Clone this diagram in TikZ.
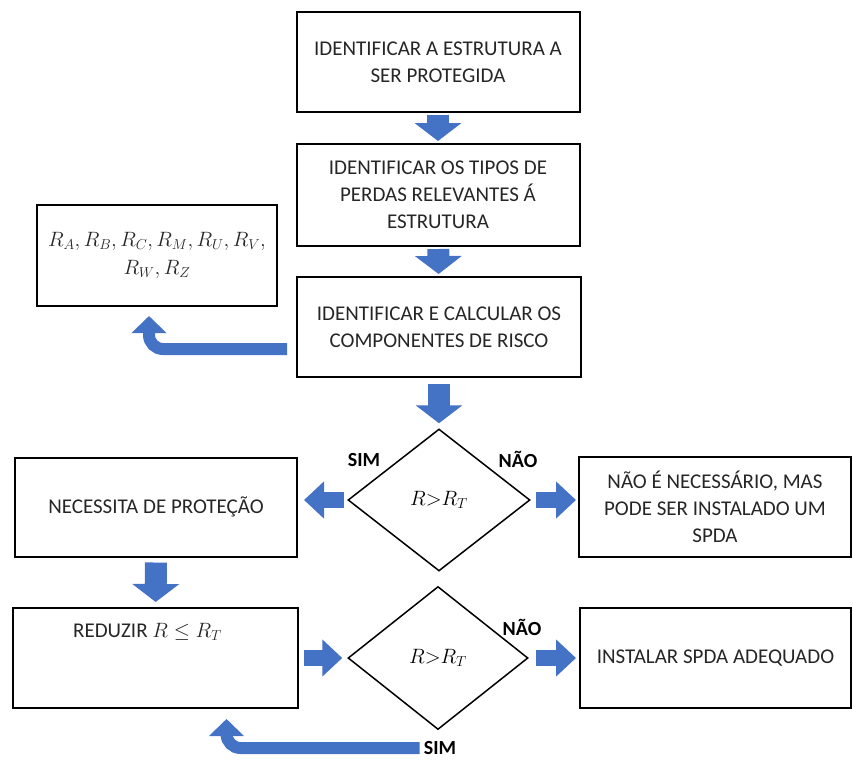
\documentclass[tikz,border=0pt]{standalone}
\usepackage{fontspec}
\setmainfont{Carlito}
\usepackage{amsmath}
\usepackage{amssymb}
\usetikzlibrary{arrows.meta, shapes.geometric}

\definecolor{flowblue}{RGB}{68,114,196}
\newcommand{\boxfont}{\fontsize{21}{27}\selectfont}

\begin{document}
\begin{tikzpicture}[x=1pt, y=-1pt, semithick,
		box/.style={draw, line width=2pt, align=center, inner sep=0pt, text=black!85, font=\boxfont},
		decision/.style={diamond, draw, line width=1.5pt, inner sep=0pt, minimum width=182pt, minimum height=142pt, font=\fontsize{22}{27}\selectfont},
		answer/.style={font=\bfseries\fontsize{20}{24}\selectfont, inner sep=0pt},
		vflow/.style={flowblue, line width=22pt, -{Triangle[width=46pt, length=18pt]}},
		hflow/.style={flowblue, line width=16pt, -{Triangle[width=36pt, length=20pt]}},
		bent/.style={flowblue, line width=12pt, rounded corners=14pt, -{Triangle[width=34pt, length=17pt]}}]
		\useasboundingbox (0, 0) rectangle (853, 760);

		\node[box, minimum width=283pt, minimum height=99pt] (ident) at (438, 62) {IDENTIFICAR A ESTRUTURA A\\SER PROTEGIDA};
		\node[box, minimum width=283pt, minimum height=102pt] (losses) at (438, 195) {IDENTIFICAR OS TIPOS DE\\PERDAS RELEVANTES Á\\ESTRUTURA};
		\node[box, minimum width=284pt, minimum height=100pt] (risk) at (439, 327) {IDENTIFICAR E CALCULAR OS\\COMPONENTES DE RISCO};
		\node[box, minimum width=240pt, minimum height=101pt, font=\fontsize{22}{28}\selectfont] (rlist) at (157, 255.5) {$R_A, R_B, R_C, R_M, R_U, R_V,$\\$R_W, R_Z$};

		\node[decision] (test1) at (439, 500) {$R{>}R_T$};
		\node[box, minimum width=282pt, minimum height=99pt] (protect) at (156, 507) {NECESSITA DE PROTEÇÃO};
		\node[box, minimum width=272pt, minimum height=100pt] (optional) at (715, 507) {NÃO É NECESSÁRIO, MAS\\PODE SER INSTALADO UM\\SPDA};
		\node[answer] (sim1) at (364, 460) {SIM};
		\node[answer] (nao1) at (518, 459) {NÃO};

		\node[box, minimum width=285pt, minimum height=100pt,
			label={[font=\boxfont, text=black!85, anchor=north, yshift=-13pt, xshift=-8pt]north:REDUZIR $R \le R_T$}] (reduce) at (155.5, 658) {};
		\node[decision, minimum width=180pt, minimum height=143pt] (test2) at (438, 658) {$R{>}R_T$};
		\node[box, minimum width=271pt, minimum height=100pt] (install) at (715.5, 658) {INSTALAR SPDA ADEQUADO};
		\node[answer] (nao2) at (522, 627) {NÃO};
		\node[answer] (sim2) at (440, 748) {SIM};

		% block arrows between the steps
		\draw[vflow, shorten <=2pt, shorten >=2pt] (ident) -- (losses);
		\draw[vflow, shorten <=2pt, shorten >=2pt] (losses) -- (risk);
		\draw[vflow, shorten <=6pt, shorten >=5pt] (risk) -- (test1);
		\draw[hflow, shorten <=3pt, shorten >=6pt] (test1.west) -- (protect.east |- test1.west);
		\draw[hflow, shorten <=5pt, shorten >=2pt] (test1.east) -- (optional.west |- test1.east);
		\draw[vflow, shorten <=5pt, shorten >=5pt] (protect) -- (reduce);
		\draw[hflow, shorten <=5pt, shorten >=5pt] (reduce.east |- test2.west) -- (test2.west);
		\draw[hflow, shorten <=7pt, shorten >=3pt] (test2.east) -- (install.west |- test2.east);

		% bent arrows back to the left
		\draw[bent, shorten <=9pt, shorten >=9pt] ([yshift=-22pt]risk.west) -| ([xshift=-8pt]rlist.south);
		\draw[bent, shorten <=4pt, shorten >=10pt] (sim2.west) -| ([xshift=71pt]reduce.south);
	\end{tikzpicture}
\end{document}
